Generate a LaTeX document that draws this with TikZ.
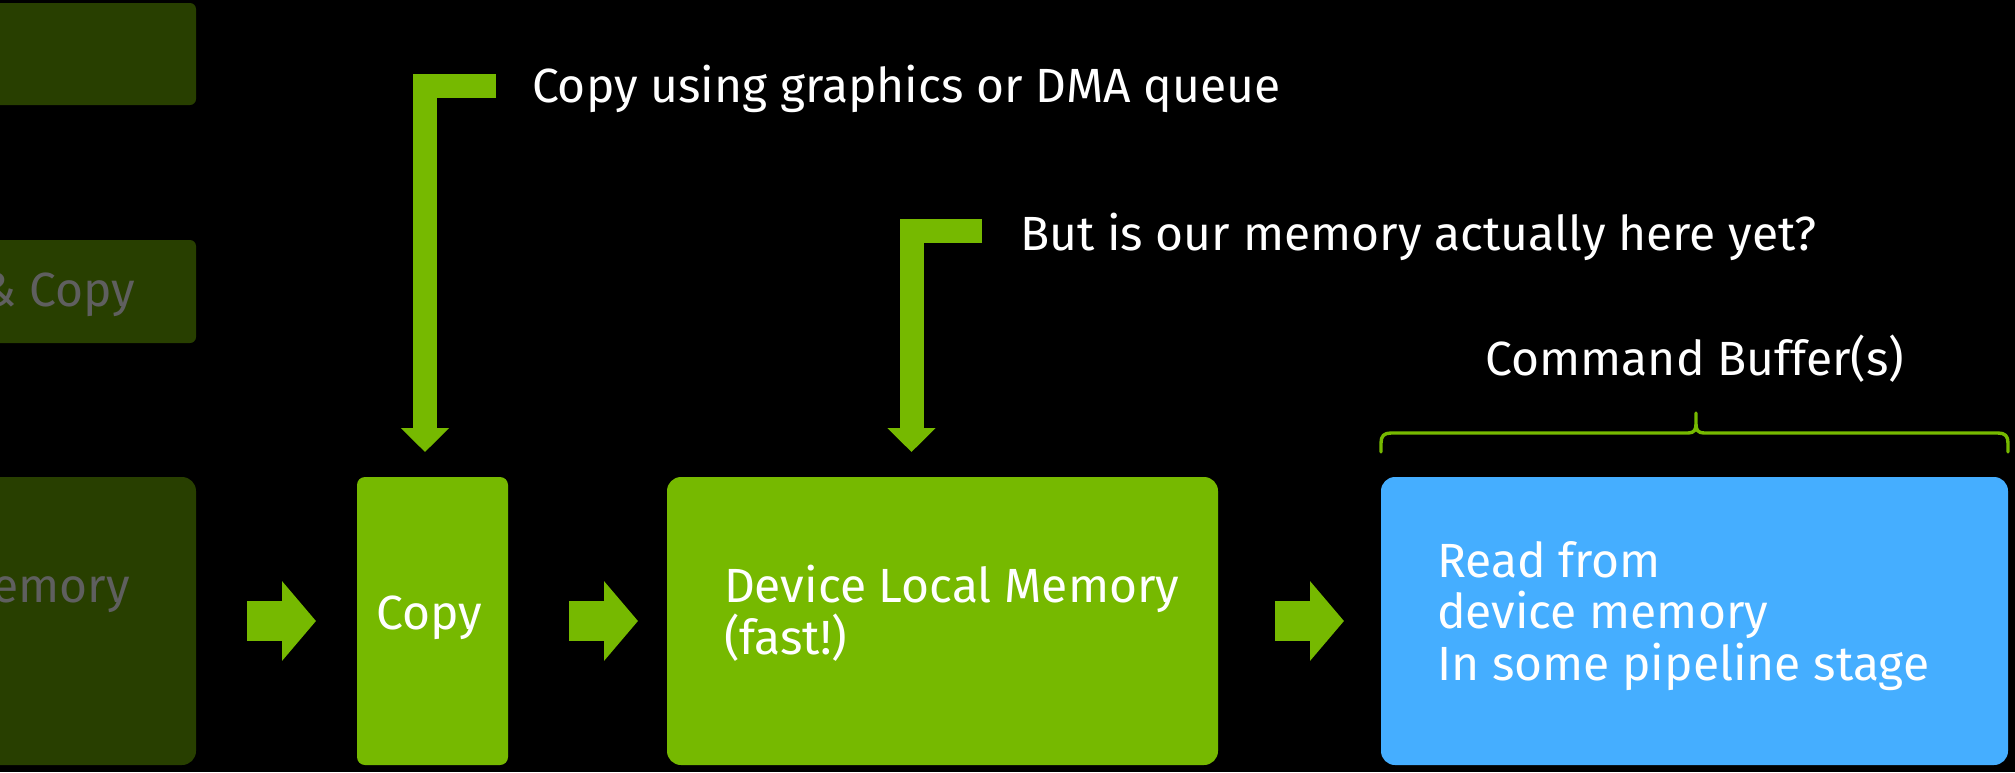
\documentclass[tikz,border=0pt]{standalone}
\usepackage{fontspec}
\setmainfont{Fira Sans}
\usetikzlibrary{arrows.meta,calc}
\definecolor{nvgreen}{HTML}{76B900}
\definecolor{dkgreen}{HTML}{283F00}
\definecolor{cbblue}{HTML}{45AEFF}
\definecolor{dimtext}{HTML}{5F5F5F}
\begin{document}
\begin{tikzpicture}[x=0.5pt,y=-0.5pt,
  every node/.style={inner sep=0pt, outer sep=0pt},
  txt/.style={font=\fontsize{24}{25.75}\selectfont, text=white},
  dimtxt/.style={font=\fontsize{24}{25.75}\selectfont, text=dimtext},
  dimbox/.style={fill=dkgreen, rounded corners=3pt},
  bigdim/.style={fill=dkgreen, rounded corners=7pt},
  greenbox/.style={fill=nvgreen, rounded corners=7pt},
  bluebox/.style={fill=cbblue, rounded corners=7pt},
  blockarrow/.style={draw=nvgreen, line width=20pt, -{Triangle[length=17pt,width=39pt]}},
  bentarrow/.style={draw=nvgreen, line width=12pt, line join=miter, -{Triangle[length=12pt,width=23.5pt]}},
  bracepath/.style={draw=nvgreen, line width=1.7pt, line cap=round, line join=round}
]
\useasboundingbox (0,0) rectangle (2015,772);
\fill[black] (0,0) rectangle (2015,772);
\clip (0,0) rectangle (2015,772);

% faded boxes on the left
\node[dimbox, minimum width=108pt, minimum height=51pt] (hb1) at (88,54) {};
\node[dimbox, minimum width=108pt, minimum height=51.5pt] (hb2) at (88,291.5) {};
\node[bigdim, minimum width=108pt, minimum height=144pt] (hb3) at (88,621) {};
\node[dimtxt, anchor=base east] (hb2t) at (135,306) {Map \& Copy};
\node[dimtxt, anchor=base east] (hb3t) at (130,602) {Host Visible Memory};

% main boxes
\node[greenbox, rounded corners=4pt, minimum width=75.5pt, minimum height=144pt] (copy) at (432.5,621) {};
\node[txt, anchor=base] (copyt) at (429,629) {Copy};
\node[greenbox, minimum width=275.5pt, minimum height=144pt] (dlm) at (942.5,621) {};
\node[txt, anchor=base west, align=left] (dlmt) at (724,654) {Device Local Memory\\(fast!)};
\node[bluebox, minimum width=313.5pt, minimum height=144pt] (cmd) at (1694.5,621) {};
\node[txt, anchor=base west, align=left] (cmdt) at (1437,680) {Read from\\device memory\\In some pipeline stage};

% block arrows
\draw[blockarrow] ($(hb3.east)+(51,0)$) -- ($(copy.west)+(-41,0)$);
\draw[blockarrow] ($(copy.east)+(61,0)$) -- ($(dlm.west)+(-29,0)$);
\draw[blockarrow] ($(dlm.east)+(57,0)$) -- ($(cmd.west)+(-37,0)$);

% annotations
\node[txt, anchor=base west] (q1) at (532,102) {Copy using graphics or DMA queue};
\node[txt, anchor=base west] (q2) at (1020,250) {But is our memory actually here yet?};
\coordinate (q1s) at (496,85.5);
\coordinate (q2s) at (982,230.5);
\draw[bentarrow] (q1s) -| ($(copy.north)+(-7.5,-25)$);
\draw[bentarrow] (q2s) -| ($(dlm.north)+(-31,-25)$);

% command buffer brace
\node[txt, anchor=base] (cbl) at (1695,375) {Command Buffer(s)};
\draw[bracepath] (1381,452) -- (1381,443) .. controls (1381,436) and (1384,433) .. (1391,433)
  -- (1688,433) .. controls (1694,433) and (1696,430) .. (1696,424) -- (1696,413)
  -- (1696,424) .. controls (1696,430) and (1698,433) .. (1704,433)
  -- (1998,433) .. controls (2005,433) and (2008,436) .. (2008,443) -- (2008,452);
\end{tikzpicture}
\end{document}
